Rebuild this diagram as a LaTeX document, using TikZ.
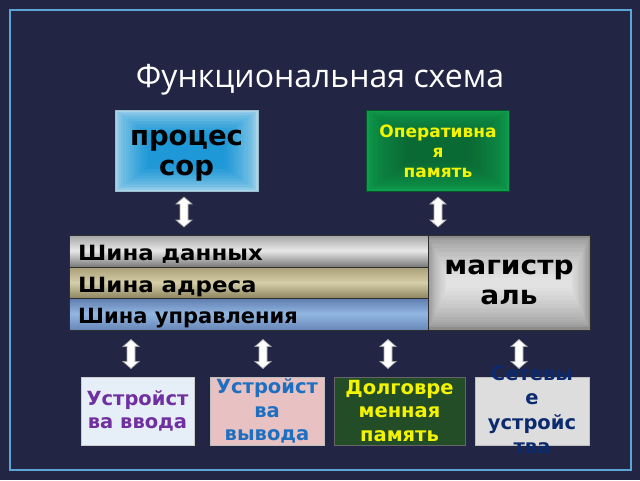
\documentclass[tikz,border=0pt]{standalone}
\usepackage{fontspec}
\setmainfont{DejaVu Sans}
\newfontfamily\titlefont{Open Sans}
\newfontfamily\widefont[FakeStretch=1.09]{DejaVu Sans Bold}
\newfontfamily\magfont[FakeStretch=1.08]{DejaVu Sans Bold}
\usetikzlibrary{calc}
\definecolor{bg}{HTML}{222543}
\definecolor{framec}{HTML}{5BA6D6}
\definecolor{procout}{HTML}{A9D6EC}
\definecolor{procin}{HTML}{1E98D6}
\definecolor{ramout}{HTML}{0E9E4E}
\definecolor{ramin}{HTML}{0A6A33}
\definecolor{ramtext}{HTML}{F4F400}
\definecolor{magout}{HTML}{8C8C8C}
\definecolor{magin}{HTML}{E2E2E2}
\definecolor{busline}{HTML}{2E2E2E}
\definecolor{databot}{HTML}{7E7E7E}
\definecolor{datamid}{HTML}{E8E8E8}
\definecolor{datatop}{HTML}{A4A4A4}
\definecolor{addrbot}{HTML}{8E8660}
\definecolor{addrmid}{HTML}{D6CEA8}
\definecolor{addrtop}{HTML}{A89F78}
\definecolor{ctrlbot}{HTML}{6A8ABA}
\definecolor{ctrlmid}{HTML}{92B6E2}
\definecolor{ctrltop}{HTML}{5E7CAE}
\definecolor{inbox}{HTML}{E6EEF8}
\definecolor{outbox}{HTML}{E8C2C2}
\definecolor{hddbox}{HTML}{234D27}
\definecolor{netbox}{HTML}{DDDDDD}
\definecolor{purpletext}{HTML}{7030A0}
\definecolor{bluetext}{HTML}{1F6FC0}
\definecolor{navytext}{HTML}{0C2A6E}
\tikzset{
  rectgrad/.style n args={4}{path picture={
    \foreach \i in {0,...,16}{
      \pgfmathsetmacro\p{100*(\i/16)^0.6}
      \fill[#2!\p!#1] ($(path picture bounding box.south west)+(\i*#3,\i*#4)$) rectangle ($(path picture bounding box.north east)-(\i*#3,\i*#4)$);
    }}},
  vgrad/.style n args={3}{path picture={
    \coordinate (gsw) at (path picture bounding box.south west);
    \coordinate (gne) at (path picture bounding box.north east);
    \foreach \i in {0,...,31}{
      \pgfmathsetmacro\t{\i/31}
      \ifdim\t pt<0.5pt
        \pgfmathsetmacro\p{100*\t/0.5}
        \fill[#2!\p!#1] ($(gsw)!{\i/32}!(gsw|-gne)$) rectangle ($(gsw-|gne)!{(\i+1.4)/32}!(gne)$);
      \else
        \pgfmathsetmacro\p{100*(\t-0.5)/0.5}
        \fill[#3!\p!#2] ($(gsw)!{\i/32}!(gsw|-gne)$) rectangle ($(gsw-|gne)!{(\i+1.4)/32}!(gne)$);
      \fi
    }}},
  topbox/.style={minimum width=143pt, minimum height=81pt, inner sep=0pt},
  boxtext/.style={inner sep=0pt, align=center},
  bar/.style={draw=busline, line width=1pt, minimum width=359pt, minimum height=31.5pt, inner sep=0pt},
  barlabel/.style={anchor=base west, inner sep=0pt, font=\widefont\fontsize{21}{23}\selectfont, text=black},
  lowbox/.style={minimum height=68pt, inner sep=0pt, align=center, font=\bfseries\fontsize{19.5}{23.5}\selectfont},
  pics/dblarr/.style={code={
    \filldraw[fill=white, draw=gray!70, line width=0.7pt]
      (0,-#1) -- (8,-#1+7) -- (4,-#1+7) -- (4,#1-7) -- (8,#1-7) -- (0,#1)
      -- (-8,#1-7) -- (-4,#1-7) -- (-4,-#1+7) -- (-8,-#1+7) -- cycle;
  }}
}
\begin{document}
\begin{tikzpicture}[x=1pt,y=-1pt]
\fill[bg] (0,0) rectangle (640,480);
\useasboundingbox (0,0) rectangle (640,480);
\draw[framec, line width=1.3pt] (10,10) rectangle (631,470);

\node[font=\titlefont\fontsize{32}{36}\selectfont, text=white, anchor=base] (title) at (320,87) {Функциональная схема};

% top boxes
\node[topbox, rectgrad={procout}{procin}{2.1pt}{1.5pt}, draw=procout!70!gray, line width=0.8pt] (proc) at (186.5,150.5) {};
\node[boxtext, font=\bfseries\fontsize{27.5}{30}\selectfont, text=black] (proctext) at ($(proc.center)+(0,5)$) {процес\\сор};
\node[topbox, rectgrad={ramout}{ramin}{2.5pt}{1.8pt}, draw=ramin!80!black, line width=0.8pt] (ram) at (438,150.5) {};
\node[boxtext, font=\bfseries\fontsize{17}{20.3}\selectfont, text=ramtext] (ramtext) at ($(ram.center)+(0,1)$) {Оперативна\\я\\память};

% upper arrows
\pic (arrA) at (184,212) {dblarr=15};
\pic (arrB) at (438,212) {dblarr=15};

% bus
\node[bar, anchor=north west, vgrad={databot}{datamid}{datatop}] (data) at (69,235) {};
\node[bar, anchor=north west, vgrad={addrbot}{addrmid}{addrtop}] (addr) at (69,266.5) {};
\node[bar, anchor=north west, vgrad={ctrlbot}{ctrlmid}{ctrltop}] (ctrl) at (69,298) {};
\node[barlabel] (ldata) at (78,260) {Шина данных};
\node[barlabel] (laddr) at (78,292) {Шина адреса};
\node[barlabel, font=\bfseries\fontsize{21}{23}\selectfont] (lctrl) at (78,323) {Шина управления};
\node[draw=busline, line width=1pt, minimum width=162pt, minimum height=95pt, inner sep=0pt,
      rectgrad={magout}{magin}{1.2pt}{2.6pt}, align=center,
      font=\magfont\fontsize{26}{30}\selectfont] (mag) at (509,282.5) {магистр\\аль};

% lower arrows
\pic (arrC) at (131,354) {dblarr=14.5};
\pic (arrD) at (263,354) {dblarr=14.5};
\pic (arrE) at (388,354) {dblarr=14.5};
\pic (arrF) at (519,354) {dblarr=14.5};

% lower boxes
\node[lowbox, fill=inbox, draw=gray!40, minimum width=113pt, text=purpletext] (inp) at (137.5,411) {Устройст\\ва ввода};
\node[lowbox, fill=outbox, draw=gray!50, minimum width=114pt, text=bluetext] (outp) at (267,411) {Устройст\\ва\\вывода};
\node[lowbox, fill=hddbox, draw=black!60, minimum width=131pt, text=ramtext] (hdd) at (399.5,411) {Долговре\\менная\\память};
\node[lowbox, fill=netbox, draw=gray!50, minimum width=114pt] (net) at (532,411) {};
\node[boxtext, font=\bfseries\fontsize{19.5}{24.5}\selectfont, text=navytext] (nettext) at ($(net.center)+(0,-1)$) {Сетевы\\е\\устройс\\тва};
\end{tikzpicture}
\end{document}
